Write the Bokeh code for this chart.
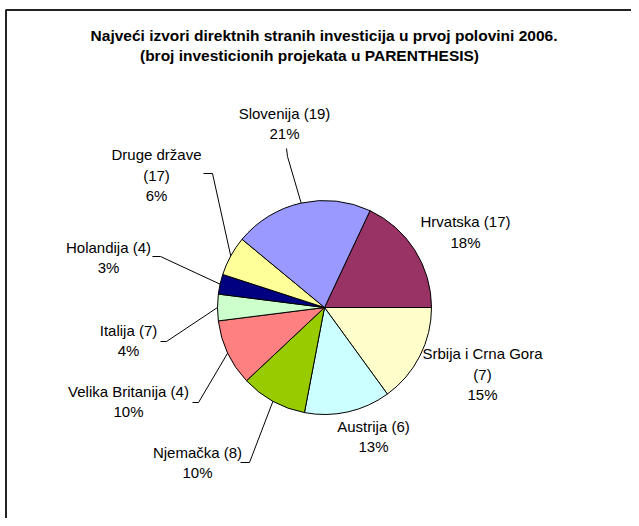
import numpy as np
from bokeh.plotting import figure
from bokeh.models import Range1d, ColumnDataSource
from bokeh.core.properties import value
from bokeh.embed import file_html
from bokeh.resources import INLINE

# ---------------- data ----------------
title_lines = ["Najveći izvori direktnih stranih investicija u prvoj polovini 2006.",
               "(broj investicionih projekata u PARENTHESIS)"]
countries = ["Hrvatska", "Srbija i Crna Gora", "Austrija", "Njemačka", "Velika Britanija",
             "Italija", "Holandija", "Druge države", "Slovenija"]
projects = [17, 7, 6, 8, 4, 7, 4, 17, 19]
shares = [18, 15, 13, 10, 10, 4, 3, 6, 21]
colors = ["#993366", "#FFFFCC", "#CCFFFF", "#99CC00", "#FF8080",
          "#CCFFCC", "#000080", "#FFFF99", "#9999FF"]

# ---------------- layout (picture pixel coords) ----------------
W, H = 631, 518
def X(px): return px
def Y(py): return H - py

CX, CY, R = X(324), Y(307), 107
FIRST_ANGLE = 64.8  # degrees, slices run clockwise

# label blocks: (center x, first line y, line step, split name onto own line?)
label_layout = {
    "Hrvatska": (465, 221, 21, False),
    "Srbija i Crna Gora": (482, 353, 20.5, True),
    "Austrija": (373, 426, 20, False),
    "Njemačka": (197, 452, 20, False),
    "Velika Britanija": (128, 391, 19.5, False),
    "Italija": (128, 330, 20, False),
    "Holandija": (108, 247, 19.5, False),
    "Druge države": (156, 154, 20.5, True),
    "Slovenija": (284, 113, 20, False),
}
# leader line label-side points (picture coords)
leader_layout = {
    "Slovenija": [(286, 148), (287, 156)],
    "Druge države": [(203, 173), (212, 173)],
    "Holandija": [(152, 256), (160, 256)],
    "Italija": [(160, 341), (166, 341)],
    "Velika Britanija": [(192, 402), (198, 402)],
    "Njemačka": [(240, 462), (249, 462)],
}

FONT = "Liberation Sans"

p = figure(width=W, height=H, output_backend="svg", toolbar_location=None,
           x_range=Range1d(0, W), y_range=Range1d(0, H), min_border=0)
p.axis.visible = False
p.grid.visible = False
p.outline_line_color = None
p.background_fill_color = "white"
p.border_fill_color = "white"

# chart border (top and left visible in reference)
p.line(x=[X(5.5), X(5.5), X(640)], y=[Y(530), Y(9.5), Y(9.5)], line_color="#222222", line_width=2)

# wedges
sh = np.array(shares, dtype=float)
cum = np.concatenate([[0], np.cumsum(sh)[:-1]])
start = np.deg2rad(FIRST_ANGLE - cum * 3.6)
end = np.deg2rad(FIRST_ANGLE - (cum + sh) * 3.6)
mid = (start + end) / 2
src = ColumnDataSource(dict(start=start, end=end, color=colors))
p.wedge(x=CX, y=CY, radius=R, start_angle="start", end_angle="end", direction="clock",
        fill_color="color", line_color="black", line_width=1, source=src)

# leader lines
lx, ly = [], []
for i, c in enumerate(countries):
    if c in leader_layout:
        pts = leader_layout[c]
        xs = [X(a) for a, b in pts] + [CX + R * np.cos(mid[i])]
        ys = [Y(b) for a, b in pts] + [CY + R * np.sin(mid[i])]
        lx.append(xs); ly.append(ys)
p.multi_line(xs=lx, ys=ly, line_color="black", line_width=1)

# labels
tx, ty, tt = [], [], []
for i, c in enumerate(countries):
    x0, y0, step, split = label_layout[c]
    if split:
        lines = [c, f"({projects[i]})", f"{shares[i]}%"]
    else:
        lines = [f"{c} ({projects[i]})", f"{shares[i]}%"]
    for k, t in enumerate(lines):
        tx.append(X(x0)); ty.append(Y(y0 + k * step)); tt.append(t)
p.text(x=tx, y=ty, text=tt, text_font=value(FONT), text_font_size="15px",
       text_align="center", text_baseline="middle", text_color="black")

# title
p.text(x=[X(323.5), X(309)], y=[Y(35), Y(55)], text=title_lines, text_font=value(FONT),
       text_font_size="15.5px", text_font_style="bold", text_align="center",
       text_baseline="middle", text_color="black")

open("out.html", "w").write(file_html(p, INLINE))
